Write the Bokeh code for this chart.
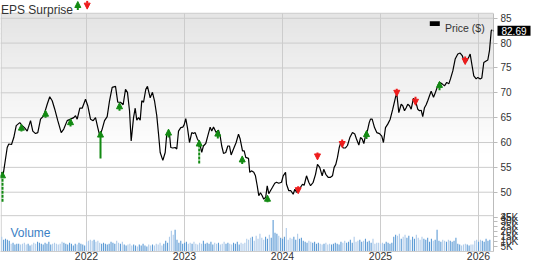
import numpy as np
from bokeh.plotting import figure
from bokeh.models import (Range1d, FixedTicker, ColumnDataSource, Arrow, NormalHead,
                          LinearAxis, Label, PolyAnnotation)
from bokeh.core.properties import value
from bokeh.embed import file_html
from bokeh.resources import INLINE

FONT = "Liberation Sans"

# ---------------- data (decimal years) ----------------
price_t = [
    2021.132, 2021.150, 2021.191, 2021.207, 2021.235, 2021.258, 2021.283, 2021.319,
    2021.344, 2021.367, 2021.395, 2021.429, 2021.452, 2021.480, 2021.503, 2021.531,
    2021.564, 2021.599, 2021.625, 2021.650, 2021.676, 2021.707, 2021.742, 2021.768,
    2021.803, 2021.837, 2021.870, 2021.888, 2021.905, 2021.932, 2021.956, 2021.990,
    2022.013, 2022.041, 2022.068, 2022.092, 2022.115, 2022.136, 2022.160, 2022.184,
    2022.211, 2022.235, 2022.262, 2022.296, 2022.319, 2022.347, 2022.374, 2022.398,
    2022.418, 2022.439, 2022.456, 2022.480, 2022.497, 2022.513, 2022.531, 2022.548,
    2022.564, 2022.582, 2022.605, 2022.622, 2022.650, 2022.673, 2022.694, 2022.717,
    2022.735, 2022.752, 2022.779, 2022.803, 2022.819, 2022.844, 2022.860, 2022.881,
    2022.905, 2022.921, 2022.939, 2022.962, 2022.983, 2022.997, 2023.013, 2023.030,
    2023.051, 2023.074, 2023.091, 2023.109, 2023.132, 2023.153, 2023.176, 2023.193,
    2023.217, 2023.237, 2023.262, 2023.278, 2023.296, 2023.323, 2023.347, 2023.364,
    2023.380, 2023.398, 2023.421, 2023.442, 2023.459, 2023.476, 2023.500, 2023.527,
    2023.551, 2023.568, 2023.592, 2023.609, 2023.625, 2023.653, 2023.666, 2023.683,
    2023.707, 2023.724, 2023.742, 2023.758, 2023.775, 2023.793, 2023.809, 2023.829,
    2023.844, 2023.860, 2023.877, 2023.898, 2023.921, 2023.939, 2023.962, 2023.990,
    2024.007, 2024.031, 2024.041, 2024.064, 2024.085, 2024.109, 2024.126, 2024.143,
    2024.160, 2024.184, 2024.204, 2024.221, 2024.245, 2024.268, 2024.286, 2024.313,
    2024.337, 2024.357, 2024.380, 2024.405, 2024.421, 2024.442, 2024.466, 2024.490,
    2024.510, 2024.527, 2024.544, 2024.561, 2024.579, 2024.595, 2024.619, 2024.643,
    2024.663, 2024.687, 2024.714, 2024.738, 2024.755, 2024.779, 2024.796, 2024.813,
    2024.830, 2024.850, 2024.867, 2024.885, 2024.898, 2024.915, 2024.939, 2024.962,
    2024.990, 2025.013, 2025.030, 2025.051, 2025.074, 2025.099, 2025.125, 2025.153,
    2025.166, 2025.187, 2025.211, 2025.227, 2025.245, 2025.262, 2025.278, 2025.296,
    2025.313, 2025.336, 2025.357, 2025.380, 2025.398, 2025.415, 2025.431, 2025.449,
    2025.466, 2025.482, 2025.500, 2025.517, 2025.541, 2025.561, 2025.584, 2025.602,
    2025.629, 2025.653, 2025.676, 2025.697, 2025.714, 2025.738, 2025.762, 2025.789,
    2025.813, 2025.834, 2025.857, 2025.880, 2025.901, 2025.915, 2025.935, 2025.952,
    2025.976, 2025.993, 2026.017, 2026.034, 2026.054, 2026.078, 2026.095, 2026.112,
    2026.130, 2026.140,
]
price_v = [
    54.0, 53.6, 59.0, 59.7, 59.6, 61.0, 63.4, 64.0,
    63.4, 63.0, 62.3, 64.4, 62.3, 61.8, 62.0, 64.7,
    65.4, 67.7, 69.2, 68.4, 66.7, 64.4, 62.0, 62.7,
    64.4, 64.7, 65.0, 65.4, 64.7, 66.9, 66.9, 68.7,
    67.4, 64.7, 64.4, 65.0, 63.0, 61.3, 62.7, 64.4,
    65.2, 68.4, 71.1, 71.3, 68.1, 68.1, 67.6, 70.7,
    70.1, 66.4, 60.3, 65.0, 66.9, 64.5, 65.0, 64.5,
    68.4, 68.1, 70.7, 71.3, 69.0, 70.1, 68.4, 65.4,
    61.7, 58.0, 56.4, 58.0, 61.7, 62.3, 59.0, 58.9,
    59.0, 58.7, 62.3, 63.0, 63.1, 63.6, 64.8, 63.0,
    60.0, 62.0, 61.8, 62.0, 60.7, 60.0, 58.0, 59.3,
    59.8, 61.3, 63.1, 62.3, 63.1, 62.0, 62.5, 61.3,
    59.3, 57.8, 58.0, 59.3, 59.3, 57.5, 58.7, 60.0,
    61.7, 60.7, 58.3, 58.3, 57.0, 56.8, 54.0, 54.3,
    54.0, 53.3, 51.3, 49.3, 49.9, 49.3, 48.6, 49.0,
    51.3, 49.7, 50.3, 51.0, 51.8, 52.0, 51.8, 52.0,
    53.3, 54.0, 51.6, 50.3, 50.3, 49.6, 50.6, 50.0,
    50.2, 51.0, 51.6, 51.4, 53.3, 52.0, 51.3, 52.0,
    53.6, 55.6, 55.0, 53.3, 54.6, 53.6, 53.0, 53.0,
    53.3, 55.0, 55.6, 57.0, 59.0, 60.0, 58.9, 58.9,
    59.4, 61.0, 62.0, 61.7, 60.7, 59.5, 61.0, 60.7,
    59.8, 61.7, 62.4, 64.0, 64.7, 64.7, 63.0, 62.0,
    61.8, 61.3, 60.0, 63.0, 63.7, 64.7, 66.7, 69.1,
    69.9, 66.0, 67.7, 67.4, 66.4, 67.0, 67.7, 67.4,
    66.7, 68.9, 68.4, 66.7, 66.4, 66.5, 65.2, 67.0,
    67.6, 68.4, 69.4, 70.3, 69.1, 70.1, 71.4, 72.1,
    71.8, 71.4, 72.1, 71.8, 72.8, 74.4, 76.8, 77.8,
    78.0, 77.5, 76.1, 76.4, 77.2, 77.8, 75.4, 73.4,
    72.8, 73.1, 72.8, 73.0, 76.1, 76.4, 76.6, 78.5,
    82.5, 82.69,
]
last_price = 82.69

# EPS surprise events: date, arrow tip price, arrow tail price
beat_t = [2021.143, 2021.336, 2021.582, 2021.837, 2022.143, 2022.337, 2022.837,
          2023.150, 2023.340, 2023.589, 2023.847, 2024.857, 2025.602]
beat_tip = [54.1, 63.7, 66.5, 64.8, 62.3, 68.0, 62.7, 60.5, 62.5, 57.3, 49.4, 62.4, 72.3]
beat_tail = [48.1, 62.2, 65.0, 63.2, 56.8, 66.4, 61.0, 55.8, 60.8, 55.7, 48.0, 60.7, 70.5]
beat_dashed = [True, False, False, False, False, False, True,
               True, True, True, False, False, False]
miss_t = [2024.160, 2024.357, 2024.609, 2025.166, 2025.357, 2025.864]
miss_tip = [49.7, 56.5, 59.0, 69.3, 67.5, 75.7]
miss_tail = [51.2, 58.0, 60.6, 70.8, 69.2, 77.3]

# weekly volume (thousands)
vol_start = 2021.135
vol_k = [
    15, 12, 13, 12, 11, 8, 9, 7, 8, 8,
    7, 8, 9, 7, 8, 6, 7, 9, 8, 10,
    9, 8, 7, 9, 8, 10, 7, 8, 9, 8,
    7, 8, 10, 9, 8, 7, 9, 8, 6, 8,
    7, 9, 8, 7, 6, 10, 11, 12, 11, 12,
    10, 11, 9, 8, 9, 8, 7, 8, 10, 9,
    8, 11, 9, 8, 10, 7, 6, 7, 8, 6,
    7, 6, 5, 7, 6, 8, 6, 5, 7, 6,
    7, 6, 8, 7, 9, 6, 8, 11, 9, 15,
    21, 17, 22, 12, 9, 11, 8, 9, 10, 8,
    9, 8, 10, 8, 7, 9, 8, 11, 8, 9,
    8, 10, 7, 9, 8, 9, 7, 8, 10, 8,
    9, 8, 7, 9, 8, 10, 7, 9, 8, 9,
    13, 12, 14, 15, 11, 16, 13, 18, 14, 12,
    15, 13, 17, 14, 32, 19, 18, 16, 14, 13,
    15, 24, 12, 14, 13, 15, 12, 18, 13, 14,
    11, 10, 9, 11, 10, 9, 10, 8, 9, 8,
    7, 8, 9, 7, 8, 7, 8, 9, 8, 7,
    10, 9, 11, 9, 10, 12, 9, 15, 10, 11,
    12, 10, 11, 13, 10, 11, 9, 13, 8, 9,
    9, 8, 9, 8, 10, 9, 8, 9, 15, 17,
    16, 18, 13, 15, 17, 14, 16, 12, 15, 13,
    17, 14, 12, 15, 13, 12, 14, 10, 13, 11,
    12, 22, 11, 10, 12, 11, 10, 12, 11, 10,
    11, 14, 8, 7, 6, 7, 8, 7, 6, 7,
    7, 11, 12, 10, 12, 11, 10, 13, 11, 12,
]

year_ticks = [2022, 2023, 2024, 2025, 2026]
price_ticks = [45, 50, 55, 60, 65, 70, 75, 80, 85]
vol_ticks = [0, 5, 10, 15, 20, 25, 30, 35]
vol_tick_labels = ["0", "5K", "10K", "15K", "20K", "25K", "30K", "35K"]

# ---------------- geometry ----------------
W, H = 533, 262
RIGHT = 40
FRAME_W = W - RIGHT
FRAME_B = 250.0          # frame bottom, px from top
PX_YEAR = 98.0
X_LEFT = 2022.0 - 86.0 / PX_YEAR
X_RIGHT = X_LEFT + FRAME_W / PX_YEAR
PX_UNIT = 4.95
Y85 = 17.7
Y_TOP = 85 + Y85 / PX_UNIT
Y_BOT = 85 - (FRAME_B - Y85) / PX_UNIT
VOL_PX_K = 0.98
VOL_MAX = FRAME_B / VOL_PX_K
TICK_OUT = 4
TAG_W = 33               # layout width taken by the price tag in the right panel


def px_t(px):
    return X_LEFT + px / PX_YEAR


def px_p(py):
    return 85 + (Y85 - py) / PX_UNIT


PANEL_TOP = px_p(12.7)
PANEL_SEP = px_p(214.3)
GRID = "#cccccc"
GREEN = "#128a12"
RED = "#ee1c1c"

p = figure(width=W, height=H, x_range=Range1d(X_LEFT, X_RIGHT), y_range=Range1d(Y_BOT, Y_TOP),
           y_axis_location="right", output_backend="svg", toolbar_location=None,
           min_border_left=0, min_border_right=RIGHT, min_border_top=0, min_border_bottom=0,
           background_fill_color="white", border_fill_color="white", outline_line_color=None)
p.extra_y_ranges = {"vol": Range1d(0, VOL_MAX)}
p.grid.grid_line_color = None

# x axis
xa = p.xaxis[0]
xa.ticker = FixedTicker(ticks=year_ticks)
xa.major_label_text_font = FONT
xa.major_label_text_font_size = "10.5px"
xa.major_label_text_color = "#333333"
xa.axis_line_color = GRID
xa.major_tick_line_color = None
xa.minor_tick_line_color = None
xa.major_tick_out = 0
xa.major_tick_in = 0
xa.major_label_standoff = 0

# right axes: price ticks + volume ticks (volume mapped onto the same pixels)
vol_pos = [round(Y_BOT + v * VOL_PX_K / PX_UNIT - (0.001 if v == 35 else 0), 4) for v in vol_ticks]
all_ticks = price_ticks + vol_pos
overrides = {}
for pos, lab in zip(vol_pos, vol_tick_labels):
    overrides[pos] = lab
    overrides[str(pos)] = lab

# inner axis: line + tick marks only
ya = p.yaxis[0]
ya.ticker = FixedTicker(ticks=all_ticks)
blank = {}
for t in all_ticks:
    blank[t] = ""
    blank[str(t)] = ""
ya.major_label_overrides = blank
ya.major_label_text_font_size = "0px"
ya.major_label_standoff = 0
ya.bounds = (Y_BOT, PANEL_TOP)
ya.axis_line_color = "#bbbbbb"
ya.major_tick_line_color = "#bbbbbb"
ya.minor_tick_line_color = None
ya.major_tick_out = TICK_OUT
ya.major_tick_in = 0

# price tag (box + white text) in the right panel so it is not clipped to the frame
p.add_layout(Label(x=px_t(497), y=last_price, y_offset=-1, text=f"{last_price:.2f}",
                   text_font=FONT, text_font_size="10px", text_color="white",
                   text_align="left", text_baseline="middle",
                   background_fill_color="black", background_fill_alpha=1.0,
                   padding=dict(left=4, right=4, top=1, bottom=1)), "right")
p.add_layout(PolyAnnotation(xs=[px_t(492.6), px_t(497.5), px_t(497.5)],
                            ys=[last_price - 0.2, last_price - 0.2 + 6.3 / PX_UNIT,
                                last_price - 0.2 - 6.3 / PX_UNIT],
                            fill_color="black", fill_alpha=1.0, line_color=None), "right")

# outer axis: the tick labels, pulled back next to the tick marks
lab_axis = LinearAxis(ticker=FixedTicker(ticks=all_ticks), major_label_overrides=overrides,
                      axis_line_color=None, major_tick_line_color=None,
                      minor_tick_line_color=None, major_tick_out=0, major_tick_in=0,
                      major_label_standoff=3 - TAG_W,
                      major_label_text_font=FONT, major_label_text_font_size="10px",
                      major_label_text_color="#333333")
p.add_layout(lab_axis, "right")

# background gradient of the price panel
n = 28
edges = np.linspace(PANEL_TOP, px_p(150), n + 1)
shades = np.linspace(229, 254, n).astype(int)
p.quad(left=X_LEFT, right=X_RIGHT, top=edges[:-1], bottom=edges[1:] - 0.3,
       fill_color=["#%02x%02x%02x" % (s, s, s) for s in shades], line_color=None)

# grid lines and panel borders
hy = [t for t in price_ticks if t > 45] + [PANEL_SEP, PANEL_TOP]
p.segment(x0=X_LEFT, x1=X_RIGHT, y0=hy, y1=hy, line_color=GRID, line_width=1)
p.segment(x0=year_ticks, x1=year_ticks, y0=PANEL_TOP, y1=Y_BOT, line_color=GRID, line_width=1)
p.segment(x0=[px_t(0.7)], x1=[px_t(0.7)], y0=PANEL_TOP, y1=Y_BOT, line_color=GRID, line_width=1)

# volume bars
vol_t = vol_start + np.arange(len(vol_k)) / 52.0
cur = np.interp(vol_t, price_t, price_v)
prev = np.interp(vol_t - 1 / 52.0, price_t, price_v)
vcol = ["#5d9bd5" if c >= q else "#aecbea" for c, q in zip(cur, prev)]
p.vbar(x=vol_t, top=vol_k, bottom=0, width=1.1 / PX_YEAR, fill_color=vcol, line_color=None,
       y_range_name="vol")

# price line
p.line(price_t, price_v, line_color="black", line_width=1.2)

# texts
p.text(x=[px_t(0.5)], y=[px_p(9.6)], text=["EPS Surprise"], text_font=value(FONT),
       text_font_size="12px", text_color="#333333", text_baseline="alphabetic", text_align="left")
p.text(x=[px_t(10)], y=[px_p(231.5)], text=["Volume"], text_font=value(FONT),
       text_font_size="12px", text_color="#3b80c4", text_baseline="alphabetic", text_align="left")
p.rect(x=[px_t(434.3)], y=[px_p(23)], width=10, height=4.7, width_units="screen",
       height_units="screen", fill_color="black", line_color=None)
p.text(x=[px_t(444.5)], y=[px_p(27.3)], text=["Price ($)"], text_font=value(FONT),
       text_font_size="10.5px", text_color="#333333", text_baseline="alphabetic", text_align="left")

# EPS arrows
def add_arrows(t, tip, tail, color, dash):
    if not t:
        return
    src = ColumnDataSource(dict(t=t, tip=tip, tail=tail))
    p.add_layout(Arrow(end=NormalHead(size=6, fill_color=color, line_color=color, line_width=1),
                       x_start="t", y_start="tail", x_end="t", y_end="tip", source=src,
                       line_color=color, line_width=2, line_dash=dash))


solid = [i for i, d in enumerate(beat_dashed) if not d]
dashed = [i for i, d in enumerate(beat_dashed) if d]
add_arrows([beat_t[i] for i in solid], [beat_tip[i] for i in solid], [beat_tail[i] for i in solid],
           GREEN, "solid")
add_arrows([beat_t[i] for i in dashed], [beat_tip[i] for i in dashed], [beat_tail[i] for i in dashed],
           GREEN, "3 1")
add_arrows(miss_t, miss_tip, miss_tail, RED, "solid")

# title arrows
add_arrows([px_t(77.3)], [px_p(1.0)], [px_p(9.5)], GREEN, "solid")
add_arrows([px_t(86.7)], [px_p(8.6)], [px_p(0.3)], RED, "solid")

open("out.html", "w").write(file_html(p, INLINE))
